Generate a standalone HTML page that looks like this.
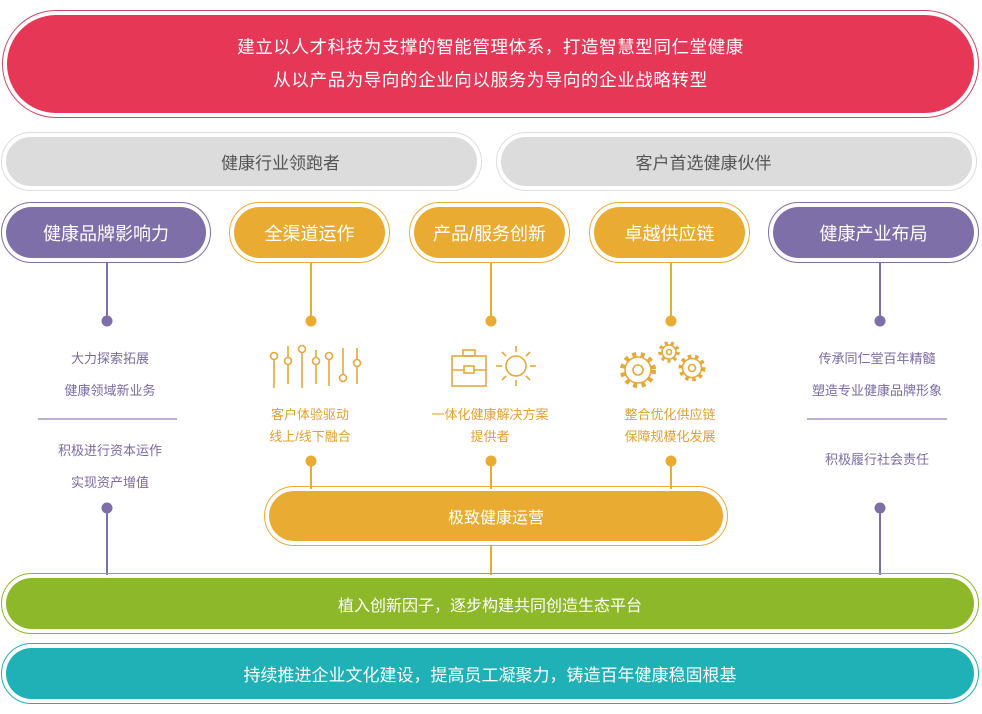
<!DOCTYPE html>
<html><head><meta charset="utf-8"><style>
body{margin:0;width:982px;height:714px;background:#fff;position:relative;overflow:hidden;font-family:"Liberation Sans","Noto Sans CJK SC",sans-serif}
.p{position:absolute;border-radius:999px;box-sizing:border-box;border:1.5px solid}
.p>div{position:absolute;left:4px;right:4px;top:4px;bottom:4px;border-radius:999px;display:flex;align-items:center;justify-content:center;color:#fff;flex-direction:column;box-sizing:border-box}
.t{position:absolute;text-align:center;font-size:13px;white-space:nowrap;transform:translateX(-50%)}
.v{position:absolute;width:1.5px}
.d{position:absolute;width:11px;height:11px;border-radius:50%;transform:translate(-50%,-50%)}
.h{position:absolute;height:2px;background:#b9aed3}
</style></head><body>
<div class="p" style="left:2px;top:10px;width:977px;height:108px;border-color:#c9485f"><div style="background:#e63757;font-size:17.5px;letter-spacing:0.6px;line-height:33px;text-align:center">建立以人才科技为支撑的智能管理体系，打造智慧型同仁堂健康<br>从以产品为导向的企业向以服务为导向的企业战略转型</div></div>
<div class="p" style="left:1px;top:132px;width:481px;height:59px;border-color:#ddd"><div style="background:#dcdcdd;color:#555;font-size:17px;padding-left:78px">健康行业领跑者</div></div>
<div class="p" style="left:496px;top:132px;width:481px;height:59px;border-color:#ddd"><div style="background:#dcdcdd;color:#555;font-size:17px;padding-right:66px">客户首选健康伙伴</div></div>

<div class="p" style="left:1px;top:202px;width:210px;height:61px;border-color:#7f6fa8"><div style="background:#7f6fa8;font-size:18px">健康品牌影响力</div></div>
<div class="p" style="left:229px;top:202px;width:161px;height:61px;border-color:#eaab33"><div style="background:#eaab33;font-size:18px">全渠道运作</div></div>
<div class="p" style="left:409px;top:202px;width:161px;height:61px;border-color:#eaab33"><div style="background:#eaab33;font-size:18px">产品/服务创新</div></div>
<div class="p" style="left:589px;top:202px;width:161px;height:61px;border-color:#eaab33"><div style="background:#eaab33;font-size:18px">卓越供应链</div></div>
<div class="p" style="left:768px;top:202px;width:211px;height:61px;border-color:#7f6fa8"><div style="background:#7f6fa8;font-size:18px">健康产业布局</div></div>

<div class="v" style="left:106px;top:263px;height:57px;background:#7f6fa8"></div>
<div class="v" style="left:310px;top:263px;height:57px;background:#eaab33"></div>
<div class="v" style="left:490px;top:263px;height:57px;background:#eaab33"></div>
<div class="v" style="left:670px;top:263px;height:57px;background:#eaab33"></div>
<div class="v" style="left:879px;top:263px;height:57px;background:#7f6fa8"></div>
<div class="d" style="left:107px;top:321px;background:#7f6fa8"></div>
<div class="d" style="left:311px;top:321px;background:#eaab33"></div>
<div class="d" style="left:491px;top:321px;background:#eaab33"></div>
<div class="d" style="left:671px;top:321px;background:#eaab33"></div>
<div class="d" style="left:880px;top:321px;background:#7f6fa8"></div>
<div class="d" style="left:311px;top:461px;background:#eaab33"></div>
<div class="d" style="left:491px;top:461px;background:#eaab33"></div>
<div class="d" style="left:671px;top:461px;background:#eaab33"></div>
<div class="d" style="left:107px;top:508px;background:#7f6fa8"></div>
<div class="d" style="left:880px;top:508px;background:#7f6fa8"></div>
<div class="v" style="left:310px;top:461px;height:28px;background:#eaab33"></div>
<div class="v" style="left:490px;top:461px;height:28px;background:#eaab33"></div>
<div class="v" style="left:670px;top:461px;height:28px;background:#eaab33"></div>
<div class="v" style="left:490px;top:545px;height:30px;background:#eaab33"></div>
<div class="v" style="left:106px;top:508px;height:67px;background:#7f6fa8"></div>
<div class="v" style="left:879px;top:508px;height:67px;background:#7f6fa8"></div>

<div class="t" style="left:110px;top:348px;color:#7a6aa2">大力探索拓展</div>
<div class="t" style="left:110px;top:380px;color:#7a6aa2">健康领域新业务</div>
<div class="h" style="left:38px;top:418px;width:139px"></div>
<div class="t" style="left:110px;top:440px;color:#7a6aa2">积极进行资本运作</div>
<div class="t" style="left:110px;top:472px;color:#7a6aa2">实现资产增值</div>
<div class="t" style="left:877px;top:348px;color:#7a6aa2">传承同仁堂百年精髓</div>
<div class="t" style="left:877px;top:380px;color:#7a6aa2">塑造专业健康品牌形象</div>
<div class="h" style="left:807px;top:418px;width:140px"></div>
<div class="t" style="left:877px;top:449px;color:#7a6aa2">积极履行社会责任</div>
<div class="t" style="left:310px;top:404px;color:#e0a12e;line-height:22px">客户体验驱动<br>线上/线下融合</div>
<div class="t" style="left:490px;top:404px;color:#e0a12e;line-height:22px">一体化健康解决方案<br>提供者</div>
<div class="t" style="left:670px;top:404px;color:#e0a12e;line-height:22px">整合优化供应链<br>保障规模化发展</div>

<svg style="position:absolute;left:268px;top:340px" width="95" height="50" fill="none" stroke="#e6a838" stroke-width="1.6">
<line x1="6" y1="20" x2="6" y2="48"/><circle cx="6" cy="16" r="3.5"/>
<line x1="20" y1="6" x2="20" y2="44"/><circle cx="20" cy="21" r="3.5" fill="#fff"/>
<line x1="34" y1="13" x2="34" y2="48"/><circle cx="34" cy="9" r="3.5"/>
<line x1="48" y1="10" x2="48" y2="44"/><circle cx="48" cy="21" r="3.5" fill="#fff"/>
<line x1="61" y1="20" x2="61" y2="46"/><circle cx="61" cy="16" r="3.5"/>
<line x1="75" y1="8" x2="75" y2="34"/><circle cx="75" cy="38" r="3.5"/>
<line x1="89" y1="8" x2="89" y2="44"/><circle cx="89" cy="23" r="3.5" fill="#fff"/>
</svg>
<svg style="position:absolute;left:448px;top:340px" width="95" height="50" fill="none" stroke="#e6a838" stroke-width="1.6">
<rect x="4" y="16" width="34" height="30"/><rect x="15" y="10" width="12" height="6"/><line x1="4" y1="30" x2="38" y2="30"/><rect x="16" y="26" width="10" height="7" fill="#fff"/>
<circle cx="68" cy="26" r="10"/>
<line x1="68" y1="6" x2="68" y2="12"/><line x1="68" y1="40" x2="68" y2="46"/><line x1="48" y1="26" x2="54" y2="26"/><line x1="82" y1="26" x2="88" y2="26"/>
<line x1="54" y1="12" x2="58" y2="16"/><line x1="78" y1="36" x2="82" y2="40"/><line x1="82" y1="12" x2="78" y2="16"/><line x1="54" y1="40" x2="58" y2="36"/>
</svg>
<svg style="position:absolute;left:612px;top:338px" width="100" height="60" fill="none" stroke="#e6a838" stroke-width="1.6">
<circle cx="26" cy="32" r="13"/><circle cx="26" cy="32" r="5"/>
<g stroke-width="5" stroke-dasharray="4 4.4"><circle cx="26" cy="32" r="15.5"/></g>
<circle cx="57" cy="14" r="7"/><circle cx="57" cy="14" r="2.5"/>
<g stroke-width="3.5" stroke-dasharray="3 3.3"><circle cx="57" cy="14" r="9"/></g>
<circle cx="80" cy="30" r="9.5"/><circle cx="80" cy="30" r="3.5"/>
<g stroke-width="4" stroke-dasharray="3.5 3.6"><circle cx="80" cy="30" r="11.5"/></g>
</svg>

<div class="p" style="left:264px;top:486px;width:464px;height:60px;border-color:#eaab33"><div style="background:#eaab33;font-size:16px">极致健康运营</div></div>
<div class="p" style="left:1px;top:573px;width:978px;height:61px;border-color:#8db82a"><div style="background:#8db82a;font-size:16px">植入创新因子，逐步构建共同创造生态平台</div></div>
<div class="p" style="left:1px;top:643px;width:978px;height:61px;border-color:#1fb1b6"><div style="background:#1fb1b6;font-size:17px">持续推进企业文化建设，提高员工凝聚力，铸造百年健康稳固根基</div></div>
</body></html>
